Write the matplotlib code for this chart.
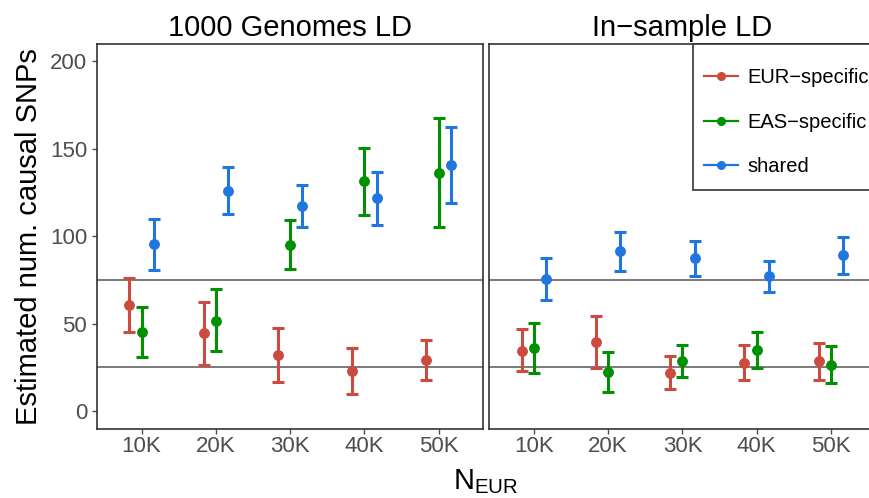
import matplotlib as mpl
import matplotlib.pyplot as plt
import matplotlib.patches as mpatches
import numpy as np

plt.rcParams['font.family'] = ['Liberation Sans', 'DejaVu Sans']

RED   = '#CD4A3E'
GREEN = '#009100'
BLUE  = '#1F76E0'
TICK_GRAY = '#4D4D4D'

sizes = ['10K', '20K', '30K', '40K', '50K']
groups = ['EUR\u2212specific', 'EAS\u2212specific', 'shared']
colors = [RED, GREEN, BLUE]
true_counts = [25, 75]

# 1000 Genomes LD: estimate, lower, upper per group
kg_est = {
    'EUR': [60.9, 44.7, 31.9, 22.8, 29.1],
    'EAS': [45.1, 51.7, 94.9, 131.4, 136.3],
    'shared': [95.3, 126.0, 117.3, 121.7, 140.5],
}
kg_lo = {
    'EUR': [45.3, 26.4, 16.5, 9.7, 17.7],
    'EAS': [30.8, 34.4, 81.0, 112.2, 105.3],
    'shared': [80.6, 112.9, 105.1, 106.6, 118.8],
}
kg_hi = {
    'EUR': [76.1, 62.6, 47.3, 36.3, 40.5],
    'EAS': [59.7, 69.6, 109.1, 150.6, 167.7],
    'shared': [109.7, 139.5, 129.1, 136.7, 162.4],
}

# In-sample LD
ins_est = {
    'EUR': [34.6, 39.4, 21.9, 27.6, 28.5],
    'EAS': [36.1, 22.3, 28.5, 35.0, 26.6],
    'shared': [75.5, 91.3, 87.3, 77.0, 89.0],
}
ins_lo = {
    'EUR': [23.0, 24.5, 12.6, 17.9, 17.9],
    'EAS': [21.9, 10.9, 19.4, 24.4, 16.2],
    'shared': [63.5, 80.4, 77.4, 68.1, 78.5],
}
ins_hi = {
    'EUR': [46.8, 54.2, 31.4, 37.7, 39.2],
    'EAS': [50.6, 33.7, 37.7, 45.5, 37.1],
    'shared': [87.5, 102.5, 97.4, 86.1, 99.8],
}

offsets = {'EUR': -0.165, 'EAS': 0.0, 'shared': 0.165}
keys = ['EUR', 'EAS', 'shared']

W, H = 870, 498
fig = plt.figure(figsize=(W / 100, H / 100), dpi=100)

pw = 386.3 / W
ph = (428.5 - 44) / H
bottom = 1 - 428.5 / H
ax1 = fig.add_axes([97 / W, bottom, pw, ph])
ax2 = fig.add_axes([489.3 / W, bottom, pw, ph])

x = np.arange(1, len(sizes) + 1)


def draw_panel(ax, est, lo, hi, title):
    for y0 in true_counts:
        ax.axhline(y0, color='#707070', lw=1.3, zorder=1)
    for key, col, lab in zip(keys, colors, groups):
        e = np.array(est[key])
        err = np.vstack([e - np.array(lo[key]), np.array(hi[key]) - e])
        ax.errorbar(x + offsets[key], e, yerr=err, fmt='o', color=col,
                    ms=6.8, elinewidth=2.2, capsize=4.2, capthick=2.2,
                    label=lab, zorder=3)
    ax.set_xlim(0.4, 5.6)
    ax.set_ylim(-10, 210)
    ax.set_xticks(x)
    ax.set_xticklabels(sizes)
    ax.set_yticks([0, 50, 100, 150, 200])
    ax.tick_params(colors=TICK_GRAY, labelcolor=TICK_GRAY, labelsize=16,
                   length=3.5, width=1.0)
    ax.tick_params(axis='x', pad=2)
    for sp in ax.spines.values():
        sp.set_edgecolor('#333333')
        sp.set_linewidth(1.2)
    ax.set_title(title, fontsize=21, pad=5.8)


draw_panel(ax1, kg_est, kg_lo, kg_hi, '1000 Genomes LD')
draw_panel(ax2, ins_est, ins_lo, ins_hi, 'In\u2212sample LD')
ax2.tick_params(axis='y', left=False, labelleft=False)

ax1.set_ylabel('Estimated num. causal SNPs', fontsize=21, labelpad=5)
fig.text(486 / W, 1 - 482 / H, r'N$_{\mathregular{EUR}}$', fontsize=21,
         ha='center', va='center')

# legend box: frame drawn separately so the top/bottom padding can be larger
leg_left, leg_top, leg_bottom = 693.5 / W, 1 - 44 / H, 1 - 190 / H
fig.patches.append(mpatches.Rectangle(
    (leg_left, leg_bottom), 0.3, leg_top - leg_bottom,
    transform=fig.transFigure, facecolor='white', edgecolor='#333333',
    lw=1.2, zorder=4))

line_handles = [mpl.lines.Line2D([], [], color=c, marker='o', ms=5.5, lw=1.6)
                for c in colors]
leg = fig.legend(line_handles, groups, loc='upper left',
                 bbox_to_anchor=(leg_left, 1 - 58 / H), frameon=False,
                 fontsize=14.5, labelspacing=1.27, handleheight=0.7,
                 handlelength=1.7, handletextpad=0.5, borderpad=0.5,
                 borderaxespad=0)
leg.set_zorder(5)

fig.savefig('out.png', dpi=100)
